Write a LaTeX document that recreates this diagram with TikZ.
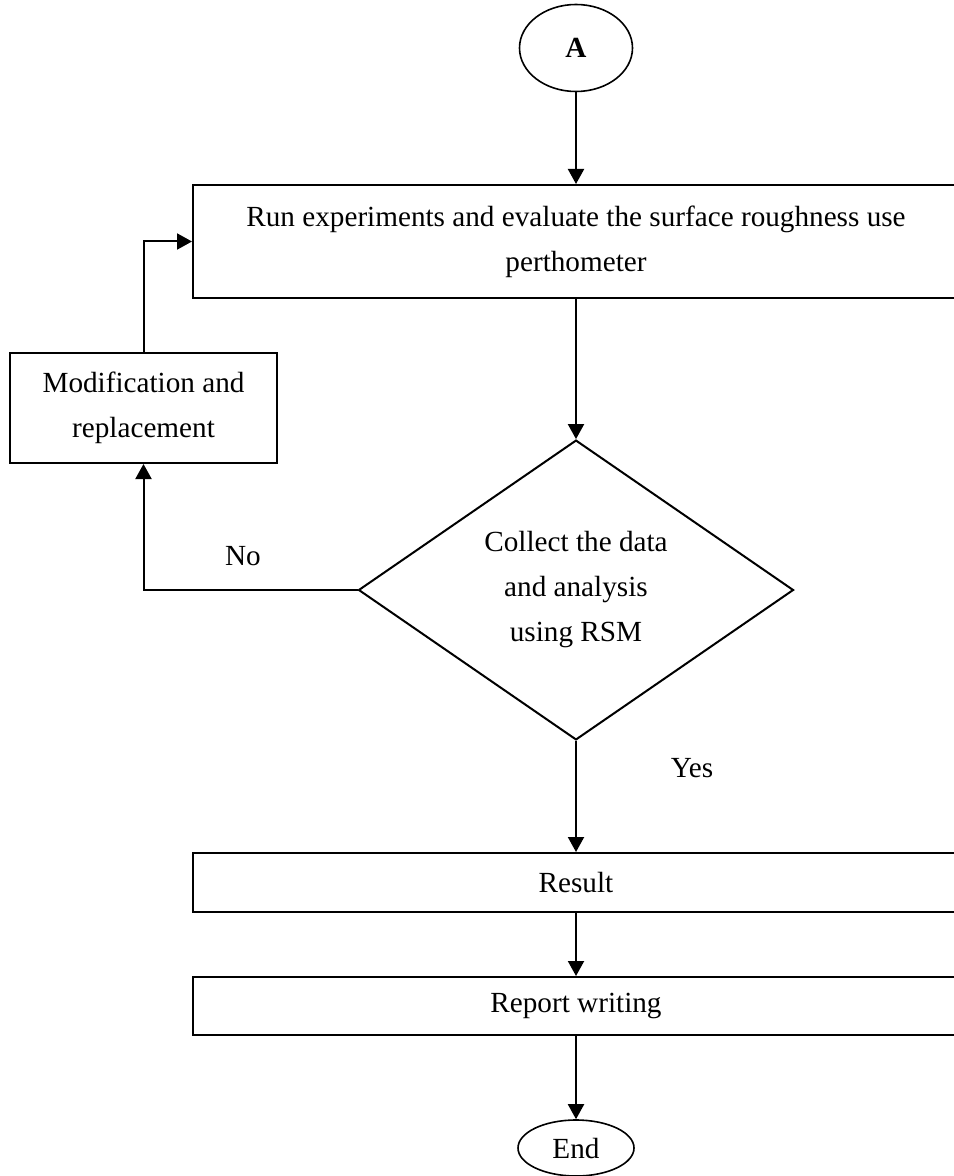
\documentclass[tikz,border=0pt]{standalone}
\usepackage{fontspec}
\setmainfont{Liberation Serif}
\usetikzlibrary{arrows.meta,shapes.geometric}

\begin{document}
\begin{tikzpicture}[x=0.5pt,y=-0.5pt,>={Triangle[length=7.5pt,width=8pt]},
    font=\fontsize{14.6}{22.5}\selectfont,
    term/.style={ellipse,draw,line width=0.8pt,inner sep=0pt},
    process/.style={rectangle,draw,line width=1pt,align=center,inner sep=0pt},
    decision/.style={diamond,draw,line width=1pt,align=center,inner sep=0pt,
      minimum width=217.5pt,minimum height=147.5pt},
    flow/.style={->,line width=1pt}]
  \useasboundingbox (0,0) rectangle (953,1176);
  \node[term,minimum width=56.5pt,minimum height=43.5pt] (A)   at (576, 48)   {\textbf{A}};
  \node[process,minimum width=383pt,minimum height=56.5pt] (run) at (576, 241.5) {Run experiments and evaluate the surface roughness use\\perthometer};
  \node[process,minimum width=133.5pt,minimum height=55pt] (mod) at (143.5, 408) {Modification and\\replacement};
  \node[decision] (rsm) at (576, 590) {Collect the data\\and analysis\\using RSM};
  \node[process,minimum width=383pt,minimum height=29.5pt] (res) at (576, 882.5) {Result};
  \node[process,minimum width=383pt,minimum height=29pt] (rep) at (576, 1006) {Report writing};
  \node[term,minimum width=58pt,minimum height=28pt] (end) at (576, 1148) {End};
  \path[flow] (A) edge (run)
              (run) edge (rsm)
              (rsm) edge (res)
              (res) edge (rep)
              (rep) edge (end);
  \draw[flow] (rsm.west) -| (mod.south);
  \draw[flow] (mod.north) |- (run.west);
  \node[] at (243, 556) {No};
  \node[] at (692, 768) {Yes};
\end{tikzpicture}
\end{document}
